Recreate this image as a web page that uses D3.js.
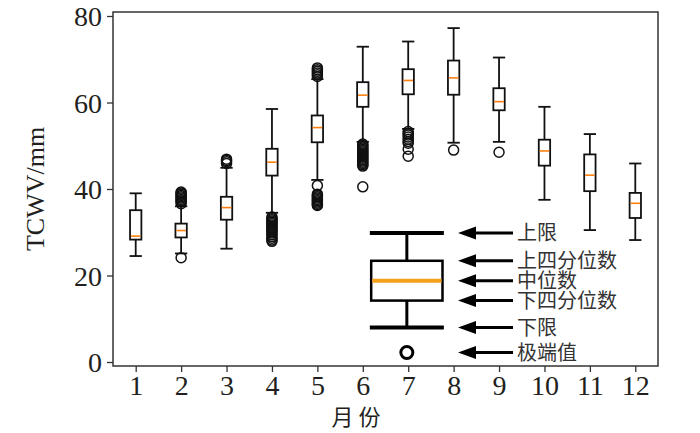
<!DOCTYPE html>
<html>
<head>
<meta charset="utf-8">
<script src="https://cdn.jsdelivr.net/npm/d3@7"></script>
<style>
    body { margin: 0; background: #fff; }
    svg { display: block; }
    .tick text { font-family: "Liberation Serif", "DejaVu Serif", serif; fill: #231f20; }
</style>
</head>
<body>
<div id="chart"></div>
<script>
// box statistics per month
const months = [1, 2, 3, 4, 5, 6, 7, 8, 9, 10, 11, 12];
const whiskerLow = [24.5, 25.1, 26.2, 34.5, 42.1, 50.9, 53.9, 50.7, 50.9, 37.5, 30.5, 28.2];
const q1 = [28.3, 28.8, 32.9, 43.1, 50.8, 59.0, 61.9, 61.8, 58.2, 45.4, 39.5, 33.3];
const median = [29.1, 30.4, 35.7, 46.2, 54.2, 61.7, 65.1, 65.7, 60.2, 48.8, 43.2, 36.7];
const q3 = [35.1, 32.0, 38.2, 49.3, 57.0, 64.7, 67.7, 69.7, 63.3, 51.4, 48.0, 39.1];
const whiskerHigh = [39.0, 36.0, 44.9, 58.5, 65.4, 72.9, 74.1, 77.2, 70.4, 59.0, 52.7, 45.9];
const outliers = [
    [],
    [24.1, 36.6, 37.0, 37.3, 37.6, 37.9, 38.2, 38.5, 38.8, 39.1, 39.3],
    [45.9, 46.3, 46.6, 46.9],
    [33.5, 33.2, 32.9, 32.6, 32.3, 32.0, 31.7, 31.4, 31.1, 30.8, 30.5, 30.2, 29.8, 29.4, 29.0, 28.6, 28.2, 27.9],
    [66.0, 66.4, 66.8, 67.2, 67.6, 68.0, 40.8, 38.8, 38.5, 38.2, 37.9, 37.6, 37.3, 37.0, 36.7, 36.4, 36.2],
    [50.4, 50.1, 49.8, 49.5, 49.2, 48.9, 48.6, 48.3, 48.0, 47.7, 47.4, 47.1, 46.8, 46.5, 46.2, 45.9, 45.6, 45.3, 40.5],
    [53.3, 52.9, 52.5, 52.0, 51.5, 51.0, 50.6, 49.2, 47.6],
    [49.0],
    [48.5],
    [],
    [],
    []
];
const yTicks = [0, 20, 40, 60, 80];

// legend (explanatory box) values and labels
const legendValues = [29.8, 23.4, 18.8, 14.2, 8.0, 2.2];
const legendLabels = ["上限", "上四分位数", "中位数", "下四分位数", "下限", "极端值"];

const width = 700;
const height = 433;
const plot = { left: 113, right: 658, top: 12, bottom: 366 };
const ink = "#231f20";

const svg = d3.select("#chart")
    .append("svg")
    .attr("width", width)
    .attr("height", height);

const x = d3.scaleLinear().domain([0.5, 12.5]).range([plot.left, plot.right]);
const y = d3.scaleLinear().domain([-0.925, 80.925]).range([plot.bottom, plot.top]);

const boxW = x(0.5) - x(0.25);     // half month = box width
const capW = x(0.27) - x(0);

// boxes
const boxes = svg.append("g")
    .selectAll("g")
    .data(months.map((m, i) => ({ m, i })))
    .enter().append("g");

boxes.append("line")
    .attr("x1", d => x(d.m)).attr("x2", d => x(d.m))
    .attr("y1", d => y(q3[d.i])).attr("y2", d => y(whiskerHigh[d.i]))
    .attr("stroke", "#111").attr("stroke-width", 1.8);
boxes.append("line")
    .attr("x1", d => x(d.m)).attr("x2", d => x(d.m))
    .attr("y1", d => y(q1[d.i])).attr("y2", d => y(whiskerLow[d.i]))
    .attr("stroke", "#111").attr("stroke-width", 1.8);
[whiskerHigh, whiskerLow].forEach(arr => {
    boxes.append("line")
        .attr("x1", d => x(d.m) - capW / 2).attr("x2", d => x(d.m) + capW / 2)
        .attr("y1", d => y(arr[d.i])).attr("y2", d => y(arr[d.i]))
        .attr("stroke", "#111").attr("stroke-width", 1.8);
});
boxes.append("rect")
    .attr("x", d => x(d.m) - boxW / 2)
    .attr("width", boxW)
    .attr("y", d => y(q3[d.i]))
    .attr("height", d => y(q1[d.i]) - y(q3[d.i]))
    .attr("fill", "none").attr("stroke", "#111").attr("stroke-width", 1.8);
boxes.append("line")
    .attr("x1", d => x(d.m) - boxW / 2 + 0.9).attr("x2", d => x(d.m) + boxW / 2 - 0.9)
    .attr("y1", d => y(median[d.i])).attr("y2", d => y(median[d.i]))
    .attr("stroke", "#ff7f0e").attr("stroke-width", 1.6);

boxes.selectAll("circle")
    .data(d => outliers[d.i].map(v => ({ m: d.m, v })))
    .enter().append("circle")
    .attr("cx", d => x(d.m))
    .attr("cy", d => y(d.v))
    .attr("r", 5)
    .attr("fill", "none")
    .attr("stroke", "#111")
    .attr("stroke-width", 1.5);

// legend box drawn with the same scales
const lx = x(6.97);
const lBoxW = x(1.57) - x(0);
const lCapW = x(1.63) - x(0);
const leg = svg.append("g");
leg.append("line")
    .attr("x1", lx).attr("x2", lx)
    .attr("y1", y(legendValues[0])).attr("y2", y(legendValues[1]))
    .attr("stroke", "#000").attr("stroke-width", 3);
leg.append("line")
    .attr("x1", lx).attr("x2", lx)
    .attr("y1", y(legendValues[3])).attr("y2", y(legendValues[4]))
    .attr("stroke", "#000").attr("stroke-width", 3);
[legendValues[0], legendValues[4]].forEach(v => {
    leg.append("line")
        .attr("x1", lx - lCapW / 2).attr("x2", lx + lCapW / 2)
        .attr("y1", y(v)).attr("y2", y(v))
        .attr("stroke", "#000").attr("stroke-width", 4);
});
leg.append("rect")
    .attr("x", lx - lBoxW / 2).attr("width", lBoxW)
    .attr("y", y(legendValues[1]))
    .attr("height", y(legendValues[3]) - y(legendValues[1]))
    .attr("fill", "none").attr("stroke", "#000").attr("stroke-width", 2.5);
leg.append("line")
    .attr("x1", lx - lBoxW / 2 + 1).attr("x2", lx + lBoxW / 2 - 1)
    .attr("y1", y(legendValues[2])).attr("y2", y(legendValues[2]))
    .attr("stroke", "#f5a01a").attr("stroke-width", 4);
leg.append("circle")
    .attr("cx", lx).attr("cy", y(legendValues[5]))
    .attr("r", 6).attr("fill", "none")
    .attr("stroke", "#000").attr("stroke-width", 3);

// arrows and labels
const arrows = svg.append("g")
    .selectAll("g")
    .data(legendValues.map((v, i) => ({ v, label: legendLabels[i] })))
    .enter().append("g")
    .attr("transform", d => `translate(0,${y(d.v)})`);
arrows.append("line")
    .attr("x1", 472).attr("x2", 513)
    .attr("stroke", "#000").attr("stroke-width", 3);
arrows.append("path")
    .attr("d", "M458,0L476,-6.5L476,6.5Z")
    .attr("fill", "#000");
arrows.append("text")
    .attr("x", 517)
    .attr("dy", "0.36em")
    .style("font-family", '"Noto Sans CJK SC", sans-serif')
    .style("font-size", "20px")
    .attr("fill", "#333")
    .text(d => d.label);

// frame
svg.append("rect")
    .attr("x", plot.left).attr("y", plot.top)
    .attr("width", plot.right - plot.left)
    .attr("height", plot.bottom - plot.top)
    .attr("fill", "none").attr("stroke", "#333").attr("stroke-width", 1.5);

// axes
const xAxis = svg.append("g")
    .attr("transform", `translate(0,${plot.bottom})`)
    .call(d3.axisBottom(x).tickValues(months).tickSize(6).tickPadding(3).tickFormat(d3.format("d")));
xAxis.selectAll("text").style("font-size", "28px");

const yAxis = svg.append("g")
    .attr("transform", `translate(${plot.left},0)`)
    .call(d3.axisLeft(y).tickValues(yTicks).tickSize(6).tickPadding(5));
yAxis.selectAll("text").style("font-size", "28px").attr("dy", "0.34em");

[xAxis, yAxis].forEach(a => {
    a.select(".domain").remove();
    a.selectAll("line").attr("stroke", "#333").attr("stroke-width", 1.3);
});

// axis titles
svg.append("text")
    .attr("transform", "translate(44,189) rotate(-90)")
    .attr("text-anchor", "middle")
    .style("font-family", '"Liberation Serif", serif')
    .style("font-size", "26px")
    .attr("fill", ink)
    .text("TCWV/mm");

svg.append("text")
    .attr("x", 356)
    .attr("y", 417)
    .attr("dy", "0.36em")
    .attr("text-anchor", "middle")
    .style("font-family", '"Noto Sans CJK SC", sans-serif')
    .style("font-size", "22px")
    .attr("fill", ink)
    .text("月 份");
</script>
</body>
</html>
